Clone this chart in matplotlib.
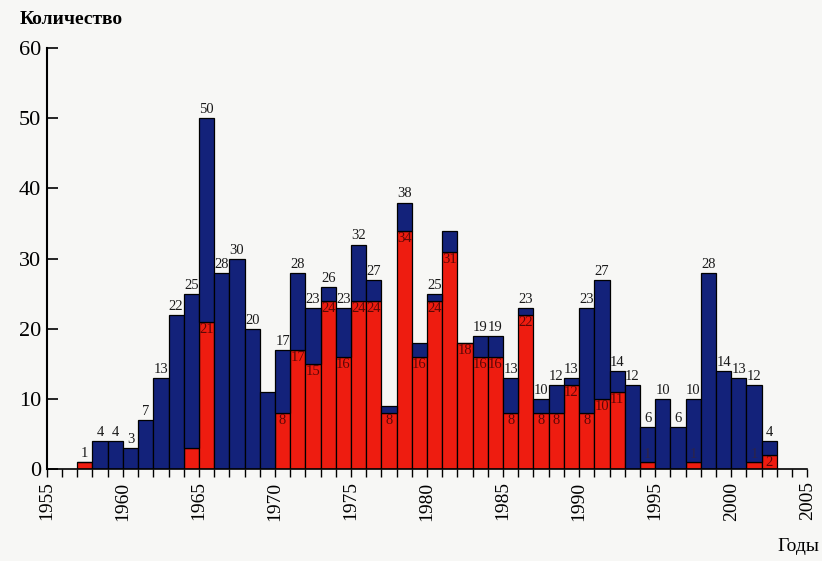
import matplotlib.pyplot as plt
import numpy as np

# Data
years = list(range(1957, 2003))
totals = [1, 4, 4, 3, 7, 13, 22, 25, 50, 28, 30, 20, 11, 17, 28, 23, 26, 23, 32, 27,
          9, 38, 18, 25, 34, 18, 19, 19, 13, 23, 10, 12, 13, 23, 27, 14, 12, 6, 10, 6,
          10, 28, 14, 13, 12, 4]
reds = [1, 0, 0, 0, 0, 0, 0, 3, 21, 0, 0, 0, 0, 8, 17, 15, 24, 16, 24, 24,
        8, 34, 16, 24, 31, 18, 16, 16, 8, 22, 8, 8, 12, 8, 10, 11, 0, 1, 0, 0,
        1, 0, 0, 0, 1, 2]
# years whose total is not written above the bar
no_total_label = [1969, 1977, 1979, 1981, 1982]
# years whose red part is not labelled
no_red_label = [1957, 1964]

blue = '#13227a'
red = '#ee1c10'

plt.rcParams['font.family'] = ['Liberation Serif', 'DejaVu Serif']

fig = plt.figure(figsize=(8.22, 5.61), dpi=100)
fig.patch.set_facecolor('#f7f7f5')
ax = fig.add_axes([0.057, 0.164, 0.925, 0.750])
ax.set_facecolor('#f7f7f5')

blues = [t - r for t, r in zip(totals, reds)]
ax.bar(years, reds, width=1.0, align='edge', color=red, edgecolor='black', linewidth=0.9)
ax.bar(years, blues, bottom=reds, width=1.0, align='edge', color=blue,
       edgecolor='black', linewidth=0.9)

for y, t, r in zip(years, totals, reds):
    if y not in no_total_label:
        ax.text(y + 0.5, t + 0.3, str(t), ha='center', va='bottom', fontsize=10.5,
                color='#1a1a1a')
    if r > 0 and y not in no_red_label:
        if r >= 2:
            ax.text(y + 0.5, r - 0.2, str(r), ha='center', va='top', fontsize=10.5,
                    color='#5c0806')
        else:
            ax.text(y + 0.5, r + 0.1, str(r), ha='center', va='bottom', fontsize=10.5,
                    color='#2e2448')

ax.set_xlim(1955, 2005)
ax.set_ylim(0, 60)
ax.set_xticks(range(1955, 2006, 5))
ax.set_xticklabels([str(v) for v in range(1955, 2006, 5)], rotation=90, fontsize=14)
ax.set_xticks(range(1955, 2006), minor=True)
ax.set_yticks(range(0, 61, 10))
ax.tick_params(axis='y', direction='in', length=8, width=1.2, labelsize=16, pad=4)
ax.tick_params(axis='x', which='both', direction='out', length=6, width=1.0, pad=3)

for s in ['top', 'right']:
    ax.spines[s].set_visible(False)
ax.spines['left'].set_linewidth(1.5)
ax.spines['bottom'].set_linewidth(1.2)

fig.text(0.024, 0.965, 'Количество', fontsize=14, fontweight='bold', ha='left', va='center')
fig.text(0.997, 0.025, 'Годы', fontsize=14, ha='right', va='center')

plt.savefig('out.png', dpi=100, facecolor=fig.get_facecolor())
